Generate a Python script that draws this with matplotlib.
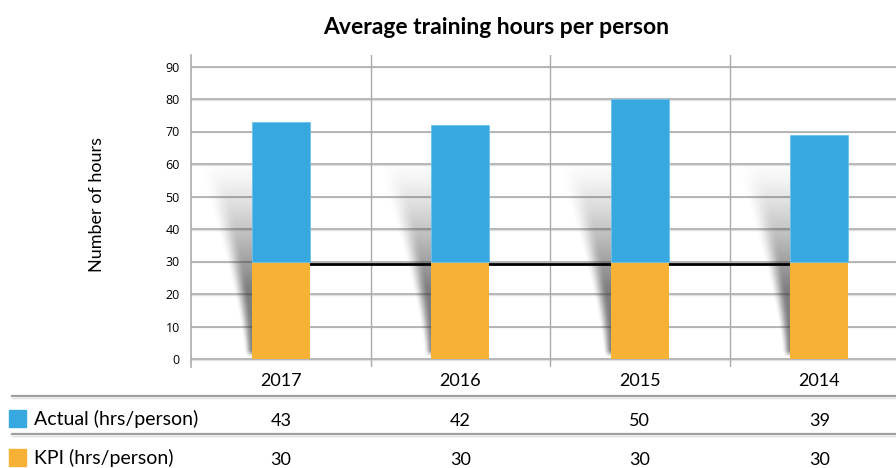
import numpy as np
import matplotlib
matplotlib.use("Agg")
import matplotlib.pyplot as plt
import matplotlib.transforms as mtransforms
from matplotlib.lines import Line2D
from matplotlib.patches import Rectangle

# data
years = ["2017", "2016", "2015", "2014"]
actual = [43, 42, 50, 39]
kpi = [30, 30, 30, 30]
row_labels = ["Actual (hrs/person)", "KPI (hrs/person)"]

BLUE = "#38a9e0"
ORANGE = "#f7b134"
GRID = "#ababab"

W, H = 896, 468
fig = plt.figure(figsize=(W / 100, H / 100), dpi=100)


def fx(px):
    return px / W


def fy(py):
    return 1 - py / H


# axes: left at px 191, 0 at py 359, 10 units = 32.5 px
y_px = 3.25
ax_left, ax_bottom, ax_top = 191, 367, 55
cat_px = 179.5
ax = fig.add_axes([fx(ax_left), fy(ax_bottom), 4 * cat_px / W, (ax_bottom - ax_top) / H])

x = np.arange(len(years))
bw = 58 / cat_px

# horizontal grid lines
for v in range(0, 100, 10):
    ax.axhline(v, color=GRID, lw=1.2, zorder=0.5)
    ax.axhline(v - 0.3, color="#e2e2e2", lw=1.0, zorder=0.4)
# vertical separators
for b in [0.5, 1.5, 2.5]:
    ax.axvline(b, color=GRID, lw=1.0, zorder=0.5)

for s in ["top", "right", "bottom"]:
    ax.spines[s].set_visible(False)
ax.spines["left"].set_color(GRID)
ax.spines["left"].set_linewidth(1.2)
ax.set_xticks([])
ax.set_yticks(range(0, 100, 10))
ax.tick_params(axis="y", length=0, pad=8, labelsize=9)
for t in ax.get_yticklabels():
    t.set_fontfamily("Open Sans")

# soft slanted shadows left of each bar (in pixel units)
for xi in x:
    bl = xi - bw / 2
    wpx, hpx = 80, 205
    xs = np.linspace(-wpx, 6, (wpx + 6) * 2)
    hs = np.linspace(0, hpx, hpx * 2)
    PX, HH = np.meshgrid(xs, hs)
    edge = -(3 + 0.0115 * HH ** 1.55)
    blur = 8 + HH * 0.1
    d = (PX - edge) / blur + 0.5
    horiz = np.clip(d, 0, 1)
    horiz = horiz * horiz * (3 - 2 * horiz)
    amp = np.clip((200 - HH) / 130, 0, 1) ** 1.3 * 0.65
    bottom = np.clip((HH - 2) / 6, 0, 1)
    alpha = horiz * amp * bottom
    img = np.zeros(alpha.shape + (4,))
    img[..., :3] = 0.22
    img[..., 3] = alpha
    ax.imshow(img, origin="lower", aspect="auto", interpolation="bilinear",
              extent=(bl + xs[0] / cat_px, bl + xs[-1] / cat_px, 0, hpx / y_px),
              zorder=1)

# KPI reference line
off = mtransforms.ScaledTranslation(0, -2 / 100, fig.dpi_scale_trans)
ax.plot(x, kpi, color="black", lw=2, zorder=2, transform=ax.transData + off)

ax.bar(x, kpi, bw, color=ORANGE, zorder=3)
ax.bar(x, actual, bw, bottom=kpi, color=BLUE, edgecolor="#6cc3ee", lw=0.6, zorder=3)

ax.set_xlim(-0.5, 3.5)
ax.set_ylim(-(ax_bottom - 359) / y_px, (359 - ax_top) / y_px)

# title and y label
fig.text(fx(496), fy(27), "Average training hours per person", ha="center", va="center",
         fontsize=16.5, fontweight="bold", family="Lato")
fig.text(fx(97), fy(205), "Number of hours", ha="center", va="center", rotation=90,
         fontsize=13, family="Lato")

# data table underneath
bt = mtransforms.blended_transform_factory(ax.transData, fig.transFigure)
for xi, yr in zip(x, years):
    fig.text(xi, fy(381), yr, transform=bt, ha="center", va="center", fontsize=13, family="Lato")

for py in [396, 434]:
    fig.add_artist(Line2D([fx(12), 1], [fy(py), fy(py)], color="#a0a0a0", lw=1.6))
    fig.add_artist(Line2D([fx(12), 1], [fy(py + 1.5), fy(py + 1.5)], color="#e0e0e0", lw=1.0))

row_y = [419, 458]
for ry, lab, col, vals in zip(row_y, row_labels, [BLUE, ORANGE], [actual, kpi]):
    fig.add_artist(Rectangle((fx(9), fy(ry + 8)), 17 / W, 17 / H, transform=fig.transFigure,
                             color=col))
    fig.text(fx(34), fy(ry), lab, ha="left", va="center", fontsize=14, family="Lato")
    for xi, v in zip(x, vals):
        fig.text(xi, fy(ry + 2), str(v), transform=bt, ha="center", va="center",
                 fontsize=13, family="Lato")

fig.savefig("out.png", dpi=100)
